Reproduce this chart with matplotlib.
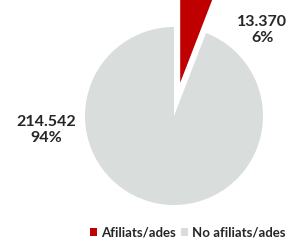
import matplotlib.pyplot as plt

# dades
labels = ['Afiliats/ades', 'No afiliats/ades']
values = [13370, 214542]
value_txt = ['13.370', '214.542']
pct_txt = ['6%', '94%']
colors = ['#C00000', '#D9DEDC']

fig = plt.figure(figsize=(2.93, 2.45), dpi=100)
ax = fig.add_axes([0, 0, 1, 1])

wedges, _ = ax.pie(values, colors=colors, startangle=90, counterclock=False,
                   explode=[0.38, 0], radius=1)

# center at ~ (174, 116) px, radius 89 px
ax.set_xlim(-174 / 89, (293 - 174) / 89)
ax.set_ylim(-(245 - 116) / 89, 116 / 89)
ax.set_aspect('auto')
ax.axis('off')

lab_pos = [(0.99, 0.97), (-1.43, -0.16)]
for (x, y), v, p in zip(lab_pos, value_txt, pct_txt):
    ax.text(x, y, v + '\n' + p, ha='center', va='center', fontsize=11.5,
            fontweight='bold', color='#262626', family='Lato', linespacing=1.2)

fig.legend(wedges, labels, loc='center', bbox_to_anchor=(0.64, 0.05),
           ncol=2, frameon=False, handlelength=0.55, handleheight=0.55,
           handletextpad=0.3, columnspacing=0.4, borderaxespad=0,
           prop={'family': 'Lato', 'size': 9.5, 'weight': 'bold'},
           labelcolor='#262626')

fig.savefig('out.png', dpi=100)
